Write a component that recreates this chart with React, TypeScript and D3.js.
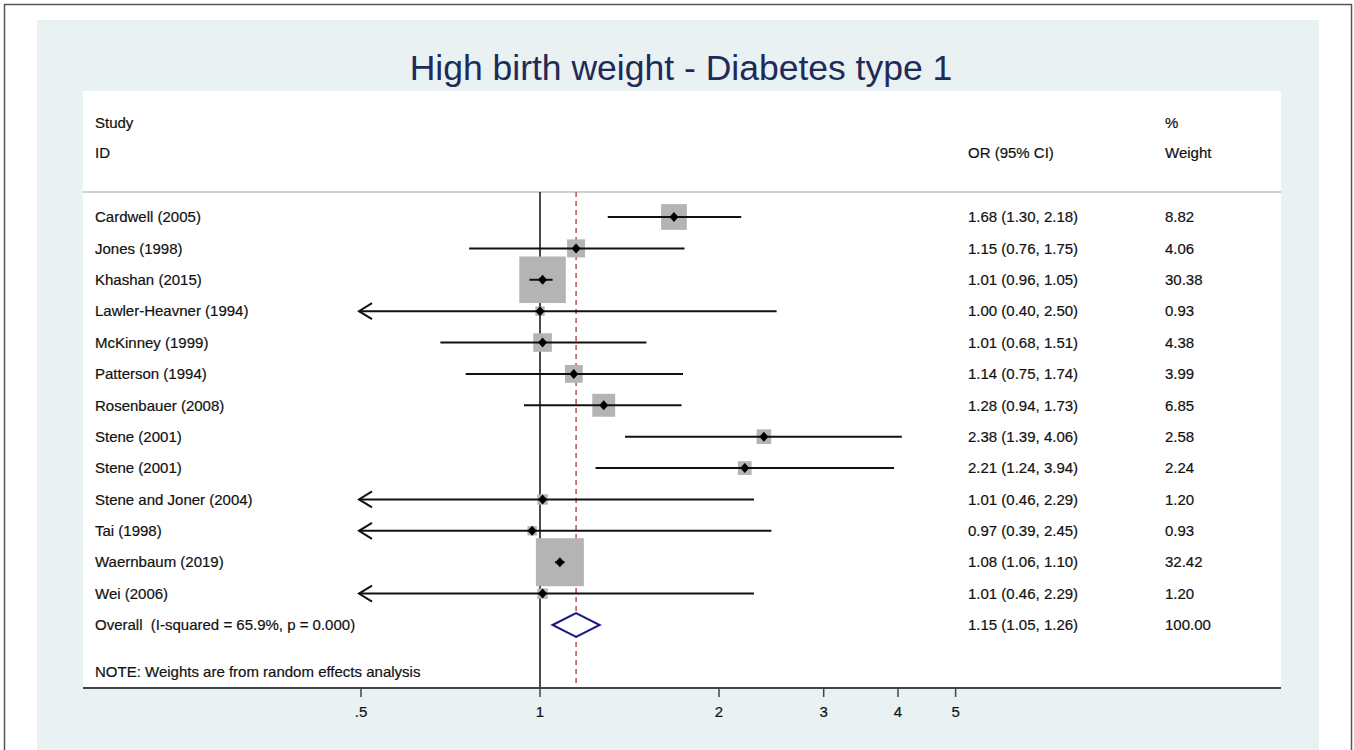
import React from 'react';
import * as d3 from 'd3';

const studies = [
  'Cardwell (2005)', 'Jones (1998)', 'Khashan (2015)', 'Lawler-Heavner (1994)',
  'McKinney (1999)', 'Patterson (1994)', 'Rosenbauer (2008)', 'Stene (2001)',
  'Stene (2001)', 'Stene and Joner (2004)', 'Tai (1998)', 'Waernbaum (2019)', 'Wei (2006)',
];
const oddsRatio = [1.68, 1.15, 1.01, 1.0, 1.01, 1.14, 1.28, 2.38, 2.21, 1.01, 0.97, 1.08, 1.01];
const lower = [1.30, 0.76, 0.96, 0.40, 0.68, 0.75, 0.94, 1.39, 1.24, 0.46, 0.39, 1.06, 0.46];
const upper = [2.18, 1.75, 1.05, 2.50, 1.51, 1.74, 1.73, 4.06, 3.94, 2.29, 2.45, 1.10, 2.29];
const weights = [8.82, 4.06, 30.38, 0.93, 4.38, 3.99, 6.85, 2.58, 2.24, 1.20, 0.93, 32.42, 1.20];
const overall = { label: 'Overall  (I-squared = 65.9%, p = 0.000)', or: 1.15, lo: 1.05, hi: 1.26, weight: 100 };
const xTicks = [0.5, 1, 2, 3, 4, 5];
const tickLabels = ['.5', '1', '2', '3', '4', '5'];

const W = 1354, H = 750;
const font = '"Liberation Sans", Arial, sans-serif';
const fs = 15;

export default function App() {
  const x = d3.scaleLog().domain([0.5, 5]).range([361, 955.6]);
  const y = d3.scaleLinear().domain([0, 13]).range([217, 625]);
  const side = d3.scaleSqrt().domain([0, 32.42]).range([0, 46.5]);
  const fmt = d3.format('.2f');

  const panel = { l: 83, r: 1281, t: 91, b: 688 };
  const sepY = 192;

  const arrow = (xt: number, yy: number) =>
    `M${xt + 13},${yy - 8} L${xt},${yy} L${xt + 13},${yy + 8}`;

  const txt = { fill: '#111', stroke: '#111', strokeWidth: 0.2 };

  return (
    <svg width={W} height={H} style={{ position: 'absolute', left: 0, top: 0, display: 'block' }}
      fontFamily={font} fontSize={fs}>
      <rect x={0} y={0} width={W} height={H} fill="#fff" />
      <rect x={4.5} y={4.5} width={1347} height={770} fill="#fff" stroke="#555" strokeWidth={1.5} />
      <rect x={37} y={20} width={1282} height={760} fill="#e9f1f3" />
      <rect x={panel.l} y={panel.t} width={panel.r - panel.l} height={panel.b - panel.t} fill="#fff" />

      <text x={681} y={80} textAnchor="middle" fontSize={35.5} fill="#1e2b57">
        High birth weight - Diabetes type 1
      </text>

      {/* headers */}
      <g {...txt}>
        <text x={95} y={123} dy="0.35em">Study</text>
        <text x={95} y={153} dy="0.35em">ID</text>
        <text x={968} y={153} dy="0.35em">OR (95% CI)</text>
        <text x={1165} y={123} dy="0.35em">%</text>
        <text x={1165} y={153} dy="0.35em">Weight</text>
      </g>
      <line x1={panel.l} x2={panel.r} y1={sepY} y2={sepY} stroke="#cfcfcf" strokeWidth={2} />

      {/* reference lines */}
      <line x1={x(1)} x2={x(1)} y1={sepY} y2={panel.b} stroke="#111" strokeWidth={1.5} />
      <line x1={x(overall.or)} x2={x(overall.or)} y1={sepY} y2={panel.b}
        stroke="#b4343c" strokeWidth={1.3} strokeDasharray="5,4" />

      {/* studies */}
      {studies.map((s, i) => {
        const yy = y(i);
        const cx = x(oddsRatio[i]);
        const sz = side(weights[i]) + 1.5;
        const clipped = lower[i] < 0.5;
        const x0 = clipped ? x(0.5) - 2 : x(lower[i]);
        return (
          <g key={i}>
            <rect x={cx - sz / 2} y={yy - sz / 2} width={sz} height={sz} fill="#b4b4b4" />
            <line x1={x0} x2={x(upper[i])} y1={yy} y2={yy} stroke="#111" strokeWidth={2} />
            {clipped && <path d={arrow(x0, yy)} fill="none" stroke="#111" strokeWidth={2} />}
            <path d={`M${cx - 4.5},${yy} L${cx},${yy - 5} L${cx + 4.5},${yy} L${cx},${yy + 5} Z`} fill="#000" />
            <g {...txt}>
              <text x={95} y={yy} dy="0.35em">{s}</text>
              <text x={968} y={yy} dy="0.35em">
                {`${fmt(oddsRatio[i])} (${fmt(lower[i])}, ${fmt(upper[i])})`}
              </text>
              <text x={1165} y={yy} dy="0.35em">{fmt(weights[i])}</text>
            </g>
          </g>
        );
      })}

      {/* overall */}
      <g>
        <path d={`M${x(overall.lo)},${y(13)} L${x(overall.or)},${y(13) - 12} L${x(overall.hi)},${y(13)} L${x(overall.or)},${y(13) + 12} Z`}
          fill="#fff" stroke="#1a1a80" strokeWidth={2} />
        <g {...txt}>
          <text x={95} y={y(13)} dy="0.35em" style={{ whiteSpace: 'pre' }}>{overall.label}</text>
          <text x={968} y={y(13)} dy="0.35em">
            {`${fmt(overall.or)} (${fmt(overall.lo)}, ${fmt(overall.hi)})`}
          </text>
          <text x={1165} y={y(13)} dy="0.35em">{fmt(overall.weight)}</text>
        </g>
      </g>

      <text x={95} y={672} dy="0.35em" {...txt}>NOTE: Weights are from random effects analysis</text>

      {/* axis */}
      <line x1={panel.l} x2={panel.r} y1={panel.b} y2={panel.b} stroke="#444" strokeWidth={2.2} />
      {xTicks.map((t, i) => (
        <g key={t}>
          <line x1={x(t)} x2={x(t)} y1={panel.b} y2={panel.b + 9} stroke="#444" strokeWidth={1.5} />
          <text x={x(t)} y={712} dy="0.35em" textAnchor="middle" {...txt}>{tickLabels[i]}</text>
        </g>
      ))}
    </svg>
  );
}
